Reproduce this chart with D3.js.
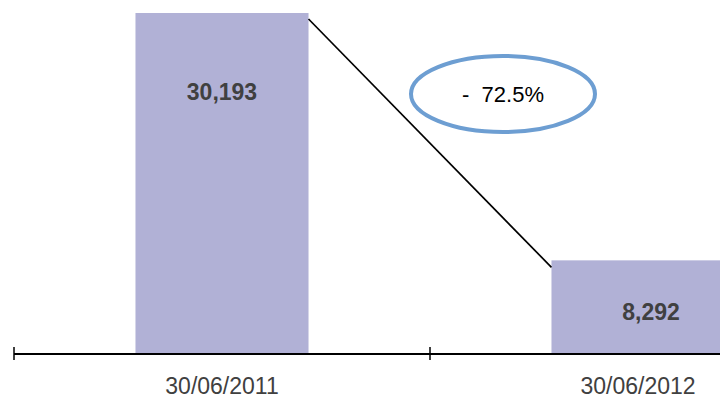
<!DOCTYPE html>
<html>
<head>
<meta charset="utf-8">
<script src="https://cdn.jsdelivr.net/npm/d3@7"></script>
<style>
  html, body { margin: 0; padding: 0; background: #fff; }
  svg { display: block; }
</style>
</head>
<body>
<svg id="chart" width="720" height="400"></svg>
<script>
const categories = ["30/06/2011", "30/06/2012"];
const values = [30193, 8292];
const valueLabels = ["30,193", "8,292"];
const changeLabel = "-  72.5%";

const svg = d3.select("#chart");

const x = d3.scaleBand().domain(categories).range([14, 846]).paddingInner(0).paddingOuter(0);
const y = d3.scaleLinear().domain([0, 30193]).range([354, 13]);
const barW = x.bandwidth() * 0.416;

const g = svg.append("g");

// bars
g.selectAll("rect.bar").data(values).enter().append("rect")
  .attr("class", "bar")
  .attr("x", (d, i) => x(categories[i]) + x.bandwidth() / 2 - barW / 2)
  .attr("y", d => y(d))
  .attr("width", barW)
  .attr("height", d => y(0) - y(d))
  .attr("fill", "#b1b1d6");

// connector line
const x1 = x(categories[0]) + x.bandwidth() / 2 + barW / 2;
const x2 = x(categories[1]) + x.bandwidth() / 2 - barW / 2;
g.append("line")
  .attr("x1", x1).attr("y1", y(values[0]) + 6)
  .attr("x2", x2).attr("y2", y(values[1]) + 7)
  .attr("stroke", "#000").attr("stroke-width", 1.7);

// axis
const axis = d3.axisBottom(x).tickSize(0).tickFormat("");
const ax = svg.append("g").attr("transform", `translate(0,${y(0)})`).call(axis);
ax.select(".domain").attr("stroke", "#000").attr("stroke-width", 2).attr("d", "M14,0H846");
const bounds = [x(categories[0]), x(categories[1]), x(categories[1]) + x.bandwidth()];
ax.selectAll("line.bound").data(bounds).enter().append("line")
  .attr("class", "bound")
  .attr("x1", d => d).attr("x2", d => d)
  .attr("y1", -7).attr("y2", 6)
  .attr("stroke", "#000").attr("stroke-width", 1.5);

// category labels
svg.selectAll("text.cat").data(categories).enter().append("text")
  .attr("class", "cat")
  .attr("x", d => x(d) + x.bandwidth() / 2)
  .attr("y", 394)
  .attr("text-anchor", "middle")
  .attr("font-family", "Liberation Sans, Arial, sans-serif")
  .attr("font-size", 23)
  .attr("fill", "#404040")
  .text(d => d);

// value labels
const labelDx = [0, 13];
const labelDy = [87, 60];
svg.selectAll("text.val").data(values).enter().append("text")
  .attr("class", "val")
  .attr("x", (d, i) => x(categories[i]) + x.bandwidth() / 2 + labelDx[i])
  .attr("y", (d, i) => y(d) + labelDy[i])
  .attr("text-anchor", "middle")
  .attr("font-family", "Liberation Sans, Arial, sans-serif")
  .attr("font-weight", "bold")
  .attr("font-size", 23)
  .attr("fill", "#404040")
  .text((d, i) => valueLabels[i]);

// ellipse callout
const cx = 503, cy = 94;
svg.append("ellipse")
  .attr("cx", cx).attr("cy", cy).attr("rx", 92).attr("ry", 38)
  .attr("fill", "#fff").attr("stroke", "#6d9ed2").attr("stroke-width", 4);
svg.append("text")
  .attr("x", cx).attr("y", cy + 8)
  .attr("text-anchor", "middle")
  .attr("font-family", "Liberation Sans, Arial, sans-serif")
  .attr("font-size", 22)
  .attr("fill", "#000")
  .style("white-space", "pre")
  .text(changeLabel);
</script>
</body>
</html>
